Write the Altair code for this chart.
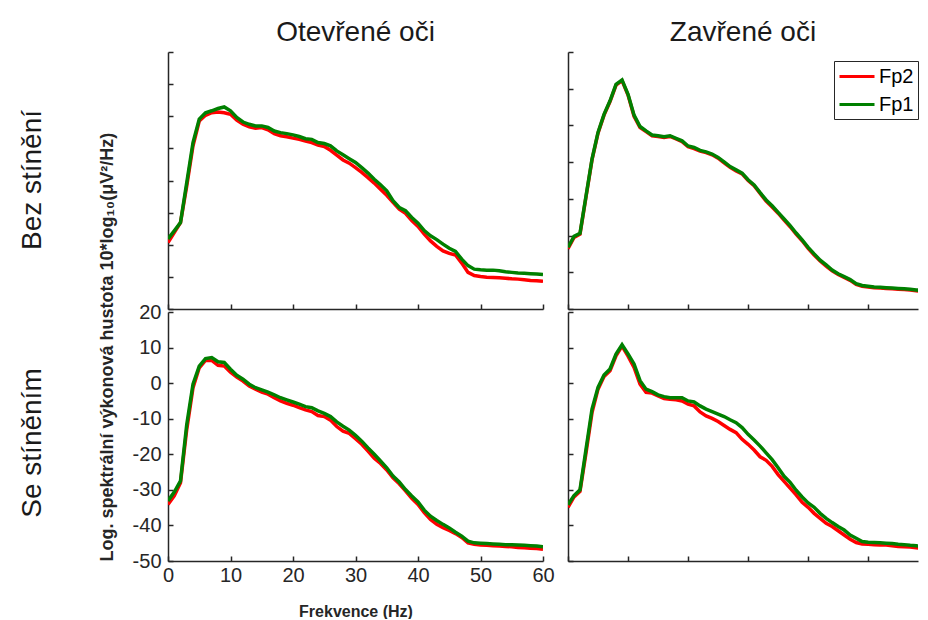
import altair as alt
import pandas as pd

# ---------------- data ----------------
freq = list(range(61))
x_ticks = [0, 10, 20, 30, 40, 50, 60]
x_ticks_right = [0, 10, 20, 30, 40, 50]
series = ["Fp2", "Fp1"]
colors = ["#ff0000", "#008000"]
col_titles = ["Otevřené oči", "Zavřené oči"]
row_titles = ["Bez stínění", "Se stíněním"]
x_title = "Frekvence (Hz)"
y_title = "Log. spektrální výkonová hustota 10*log₁₀(μV²/Hz)"

tl_fp2 = [-39.3, -36.2, -33.1, -21.7, -9.2, -1.5, 0.3, 1.1, 1.3, 1.1,
          0.6, -1.2, -2.5, -3.3, -3.7, -3.5, -4.2, -5.4, -6.1, -6.4,
          -6.8, -7.2, -7.7, -8.2, -9.0, -9.4, -10.6, -12.1, -13.6, -14.6,
          -16.0, -17.5, -19.1, -20.8, -22.7, -24.6, -26.8, -28.9, -30.2, -32.5,
          -34.3, -36.7, -38.8, -40.5, -41.9, -42.7, -43.2, -45.7, -48.6, -49.6,
          -49.9, -50.1, -50.2, -50.3, -50.4, -50.6, -50.7, -50.9, -51.1, -51.2,
          -51.4]
tl_fp1 = [-38.2, -35.7, -33.1, -20.6, -8.2, -0.9, 1.1, 1.7, 2.4, 2.9,
          1.7, -0.4, -1.8, -2.5, -3.0, -3.0, -3.5, -4.6, -5.1, -5.4,
          -5.8, -6.3, -7.0, -7.2, -8.2, -8.5, -9.2, -10.8, -12.0, -13.2,
          -14.4, -16.0, -17.7, -19.6, -21.3, -23.2, -26.3, -28.4, -29.4, -31.5,
          -33.3, -35.6, -37.2, -38.4, -39.8, -41.1, -42.1, -44.5, -46.5, -47.6,
          -47.8, -47.9, -47.9, -48.1, -48.4, -48.6, -48.8, -48.9, -49.0, -49.1,
          -49.3]
tr_fp2 = [-33.6, -30.5, -29.6, -19.5, -9.4, -2.1, 2.8, 6.5, 11.0, 12.2,
          8.3, 2.5, -0.6, -1.7, -2.8, -3.0, -3.3, -3.0, -3.7, -4.4,
          -5.8, -6.3, -7.0, -7.4, -8.0, -8.9, -10.2, -11.4, -12.4, -13.2,
          -15.0, -16.4, -18.5, -20.6, -22.2, -23.9, -25.8, -27.6, -29.6, -31.4,
          -33.5, -35.3, -36.9, -38.3, -39.6, -40.6, -41.4, -42.2, -43.3, -43.8,
          -44.0, -44.2, -44.3, -44.4, -44.5, -44.6, -44.7, -44.8, -45.0, -45.2,
          -45.4]
tr_fp1 = [-33.2, -30.2, -29.4, -19.2, -9.2, -1.9, 3.0, 6.7, 11.2, 12.4,
          8.5, 2.8, -0.3, -1.5, -2.6, -2.8, -3.1, -2.8, -3.5, -4.2,
          -5.6, -6.0, -6.8, -7.2, -7.8, -8.7, -9.9, -11.2, -12.1, -13.0,
          -14.8, -16.2, -18.3, -20.3, -21.9, -23.7, -25.5, -27.3, -29.3, -31.2,
          -33.2, -35.0, -36.7, -38.0, -39.4, -40.4, -41.2, -42.0, -43.1, -43.6,
          -43.8, -44.0, -44.1, -44.2, -44.3, -44.4, -44.5, -44.6, -44.8, -45.0,
          -45.2]
bl_fp2 = [-34.1, -31.7, -28.0, -13.0, -1.3, 4.3, 6.4, 6.4, 5.0, 4.8,
          3.1, 1.7, 0.6, -0.8, -1.7, -2.5, -3.1, -4.1, -5.0, -5.7,
          -6.2, -6.9, -7.5, -8.0, -9.1, -9.4, -10.4, -12.2, -13.5, -14.1,
          -15.6, -17.2, -19.1, -21.1, -22.6, -24.4, -26.6, -28.3, -30.3, -32.4,
          -34.1, -36.4, -38.3, -39.7, -40.6, -41.4, -42.3, -43.4, -44.9, -45.3,
          -45.5, -45.6, -45.7, -45.8, -45.9, -46.0, -46.2, -46.3, -46.4, -46.5,
          -46.7]
bl_fp1 = [-33.1, -30.6, -27.5, -11.6, -0.3, 4.8, 6.9, 7.2, 6.0, 5.8,
          3.9, 2.2, 1.1, -0.3, -1.3, -1.9, -2.5, -3.3, -4.1, -4.7,
          -5.3, -5.9, -6.6, -6.9, -7.8, -8.5, -9.4, -10.9, -12.1, -13.2,
          -14.7, -16.3, -18.2, -20.0, -21.9, -23.8, -26.1, -27.8, -29.9, -31.7,
          -33.4, -35.7, -37.4, -38.6, -39.7, -40.7, -41.9, -43.0, -44.4, -44.9,
          -45.0, -45.1, -45.2, -45.3, -45.4, -45.4, -45.5, -45.6, -45.7, -45.8,
          -46.0]
br_fp2 = [-34.9, -32.0, -30.4, -19.6, -8.3, -1.7, 1.9, 3.5, 7.7, 10.4,
          7.6, 4.4, -0.3, -2.6, -2.8, -3.6, -4.3, -4.5, -4.7, -5.0,
          -5.9, -6.4, -8.1, -9.2, -9.9, -10.8, -11.9, -13.0, -13.9, -15.8,
          -17.2, -18.8, -20.7, -21.7, -23.4, -25.7, -27.6, -29.5, -31.4, -33.5,
          -34.9, -36.6, -38.0, -39.4, -40.3, -41.5, -42.7, -43.9, -44.8, -45.2,
          -45.3, -45.4, -45.5, -45.5, -45.7, -45.9, -46.0, -46.1, -46.3, -46.5,
          -46.6]
br_fp1 = [-34.2, -31.6, -30.0, -18.6, -7.3, -1.2, 2.3, 4.0, 8.2, 10.8,
          8.2, 5.4, 0.7, -1.7, -2.4, -3.3, -3.8, -4.1, -4.1, -4.1,
          -5.0, -5.3, -6.4, -7.3, -8.0, -8.7, -9.4, -10.3, -11.1, -12.5,
          -14.4, -16.0, -17.7, -19.6, -21.5, -23.8, -26.2, -27.9, -30.1, -32.0,
          -33.7, -34.9, -36.6, -38.0, -39.2, -40.3, -41.3, -42.7, -43.6, -44.5,
          -44.7, -44.8, -44.9, -45.0, -45.1, -45.3, -45.4, -45.6, -45.7, -45.9,
          -46.1]

tl_yticks = [-60, -50, -40, -30, -20, -10, 0, 10, 20]
tr_yticks = [-50, -40, -30, -20, -10, 0, 10, 20]
b_yticks = [-50, -40, -30, -20, -10, 0, 10, 20]
right_xmax = 58.3   # visible part of the right column (window edge)

AX = "#262626"
TXT = "#1a1a1a"
FONT = "Liberation Sans"


def panel(fp2, fp1, y_ticks, xt_vals, xmax, w, h, labels=False,
          col_title=None, row_title=None, row_y=None, legend=False,
          xt=None, yt=None):
    df = pd.DataFrame({
        "f": freq + freq,
        "v": fp2 + fp1,
        "s": [series[0]] * len(freq) + [series[1]] * len(freq),
    })
    xs = alt.Scale(domain=[0, xmax], nice=False, zero=False)
    ys = alt.Scale(domain=[y_ticks[0], y_ticks[-1]], nice=False, zero=False)
    cscale = alt.Scale(domain=series, range=colors)

    if legend:
        leg = alt.Legend(title=None, orient="none", legendX=w - 84,
                         legendY=9, padding=4,
                         strokeColor=AX, fillColor="white", cornerRadius=0,
                         symbolType="M-1,0L2.5,0", symbolSize=400,
                         symbolStrokeWidth=3, labelFontSize=20,
                         labelColor="#000", labelOffset=18, rowPadding=6,
                         labelFont=FONT)
    else:
        leg = None

    x_main = alt.Axis(orient="bottom", values=xt_vals, ticks=False,
                      tickSize=0, labels=labels, labelFontSize=20,
                      labelColor=AX, labelPadding=4, labelFlush=False,
                      domainColor=AX, domainWidth=1.5, grid=False, title=xt,
                      titleFontSize=16, titleFontWeight="bold",
                      titleColor=AX, titlePadding=18)
    y_main = alt.Axis(orient="left", values=y_ticks, ticks=False, tickSize=0,
                      labels=labels, labelFontSize=20, labelColor=AX,
                      labelPadding=7, labelExpr="'' + datum.value",
                      domainColor=AX, domainWidth=1.5, grid=False, title=yt,
                      titleFontSize=18, titleFontWeight="bold",
                      titleColor=AX, titlePadding=16, titleAnchor="start")
    x_tick = alt.Axis(orient="top", offset=-h, values=xt_vals, domain=False,
                      labels=False, ticks=True, tickSize=5, tickWidth=1.5,
                      tickColor=AX, grid=False, title=None)
    y_tick = alt.Axis(orient="right", offset=-w, values=y_ticks, domain=False,
                      labels=False, ticks=True, tickSize=5, tickWidth=1.5,
                      tickColor=AX, grid=False, title=None)

    base = alt.Chart(df)
    red = base.transform_filter(alt.datum.s == series[0]).mark_line(
        strokeWidth=3.5, clip=True).encode(
        x=alt.X("f:Q", scale=xs, axis=x_main),
        y=alt.Y("v:Q", scale=ys, axis=y_main),
        color=alt.Color("s:N", scale=cscale, legend=leg),
    )
    green = base.transform_filter(alt.datum.s == series[1]).mark_line(
        strokeWidth=3.5, clip=True).encode(
        x=alt.X("f:Q", scale=xs, axis=None),
        y=alt.Y("v:Q", scale=ys, axis=None),
        color=alt.Color("s:N", scale=cscale, legend=leg),
    )
    ticks = base.transform_filter(alt.datum.s == series[0]).mark_line(
        opacity=0, clip=True).encode(
        x=alt.X("f:Q", scale=xs, axis=x_tick),
        y=alt.Y("v:Q", scale=ys, axis=y_tick),
    )
    layers = [red, green, ticks]
    if row_title is not None:
        txt = alt.Chart(pd.DataFrame({"t": [row_title]})).mark_text(
            angle=270, fontSize=28, align="center", baseline="middle",
            color=TXT, font=FONT).encode(
            text="t:N", x=alt.value(-135), y=alt.value(row_y))
        layers.append(txt)
    ch = alt.layer(*layers).resolve_axis(x="independent", y="independent")
    props = dict(width=w, height=h)
    if col_title is not None:
        props["title"] = alt.TitleParams(col_title, fontSize=28,
                                         fontWeight="normal", color=TXT,
                                         font=FONT, offset=4, anchor="middle")
    return ch.properties(**props)


tl = panel(tl_fp2, tl_fp1, tl_yticks, x_ticks, 60, 375, 257,
           col_title=col_titles[0], row_title=row_titles[0], row_y=128)
tr = panel(tr_fp2, tr_fp1, tr_yticks, x_ticks_right, right_xmax, 350, 257,
           col_title=col_titles[1], legend=True)
bl = panel(bl_fp2, bl_fp1, b_yticks, x_ticks, 60, 375, 249, labels=True,
           row_title=row_titles[1], row_y=131, xt=x_title, yt=y_title)
br = panel(br_fp2, br_fp1, b_yticks, x_ticks_right, right_xmax, 350, 249)

chart = alt.concat(
    tl, tr, bl, br, columns=2, spacing={"row": 3, "column": 25},
    bounds="flush",
).resolve_scale(color="independent").properties(
    padding={"left": 11, "top": 11, "right": 0, "bottom": 0},
    background="white",
).configure(font=FONT).configure_view(stroke=None)

chart.save("out.html", embed_options={"renderer": "svg", "actions": False})
